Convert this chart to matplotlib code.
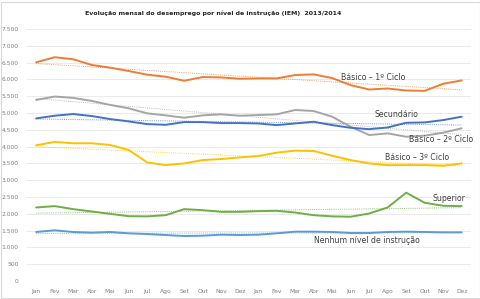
import matplotlib.pyplot as plt
import numpy as np
from matplotlib.patches import Rectangle
from matplotlib.ticker import FuncFormatter

months = ['Jan', 'Fev', 'Mar', 'Abr', 'Mai', 'Jun', 'Jul', 'Ago', 'Set', 'Out', 'Nov', 'Dez'] * 2

basico1 = [6510, 6660, 6600, 6430, 6350, 6250, 6140, 6080, 5960, 6070, 6060, 6020,
           6030, 6030, 6130, 6150, 6040, 5830, 5700, 5730, 5670, 5660, 5870, 5970]
basico2 = [5390, 5490, 5450, 5360, 5240, 5140, 4990, 4930, 4860, 4930, 4960, 4920,
           4940, 4960, 5090, 5060, 4890, 4590, 4345, 4395, 4295, 4325, 4415, 4545]
secundario = [4840, 4920, 4970, 4910, 4820, 4750, 4670, 4650, 4730, 4730, 4700, 4700,
              4690, 4640, 4690, 4740, 4640, 4560, 4520, 4570, 4710, 4720, 4790, 4890]
basico3 = [4040, 4140, 4100, 4100, 4050, 3900, 3530, 3450, 3500, 3600, 3630, 3680,
           3720, 3820, 3880, 3870, 3730, 3600, 3500, 3450, 3450, 3450, 3430, 3500]
superior = [2190, 2230, 2140, 2070, 2000, 1930, 1925, 1960, 2140, 2110, 2060, 2060,
            2080, 2090, 2040, 1960, 1925, 1915, 2010, 2190, 2630, 2330, 2240, 2230]
nenhum = [1460, 1510, 1460, 1440, 1460, 1420, 1400, 1370, 1340, 1350, 1380, 1370,
          1380, 1420, 1470, 1470, 1460, 1430, 1430, 1460, 1470, 1460, 1450, 1450]

series = [
    ('Básico – 1º Ciclo', basico1, '#ED7D31', (18.2, 6060)),
    ('Básico – 2º Ciclo', basico2, '#A5A5A5', (21.9, 4200)),
    ('Secundário', secundario, '#4472C4', (19.5, 4950)),
    ('Básico – 3º Ciclo', basico3, '#FFC000', (20.6, 3670)),
    ('Superior', superior, '#70AD47', (22.3, 2470)),
    ('Nenhum nível de instrução', nenhum, '#5B9BD5', (17.9, 1210)),
]

fig = plt.figure(figsize=(4.81, 2.99), dpi=100)
ax = fig.add_axes([0.056, 0.06, 0.923, 0.843])

x = np.arange(len(months))
for name, vals, color, (tx, ty) in series:
    ax.plot(x, vals, color=color, lw=1.4, solid_capstyle='round', zorder=3)
    # linear trendline, as in the original Excel chart
    k, b = np.polyfit(x, vals, 1)
    ax.plot(x, k * x + b, color=color, lw=0.7, ls=(0, (1, 1.2)), alpha=0.75, zorder=2)
    ax.text(tx, ty, name, fontsize=5.6, color='#404040', ha='center', va='center', zorder=4)

ax.set_xlim(-0.5, 23.5)
ax.set_ylim(0, 7500)
ax.set_yticks(np.arange(0, 7501, 500))
ax.yaxis.set_major_formatter(FuncFormatter(lambda v, p: f'{int(v):,}'.replace(',', '.')))
ax.set_xticks(x)
ax.set_xticklabels(months)
ax.tick_params(labelsize=4.3, colors='#7f7f7f', length=0, pad=6)
ax.grid(axis='y', color='#e6e6e6', lw=0.6)
ax.set_axisbelow(True)
for s in ax.spines.values():
    s.set_visible(False)
ax.axhline(0, color='#d9d9d9', lw=0.6)

fig.text(0.444, 0.957, 'Evolução mensal do desemprego por nível de instrução (IEM)  2013/2014',
         fontsize=4.5, fontweight='bold', color='#262626', ha='center', va='center')

fig.patches.append(Rectangle((0.002, 0.004), 0.996, 0.99, transform=fig.transFigure,
                             fill=False, edgecolor='#d9d9d9', lw=0.8))

fig.savefig('out.png', dpi=100)
